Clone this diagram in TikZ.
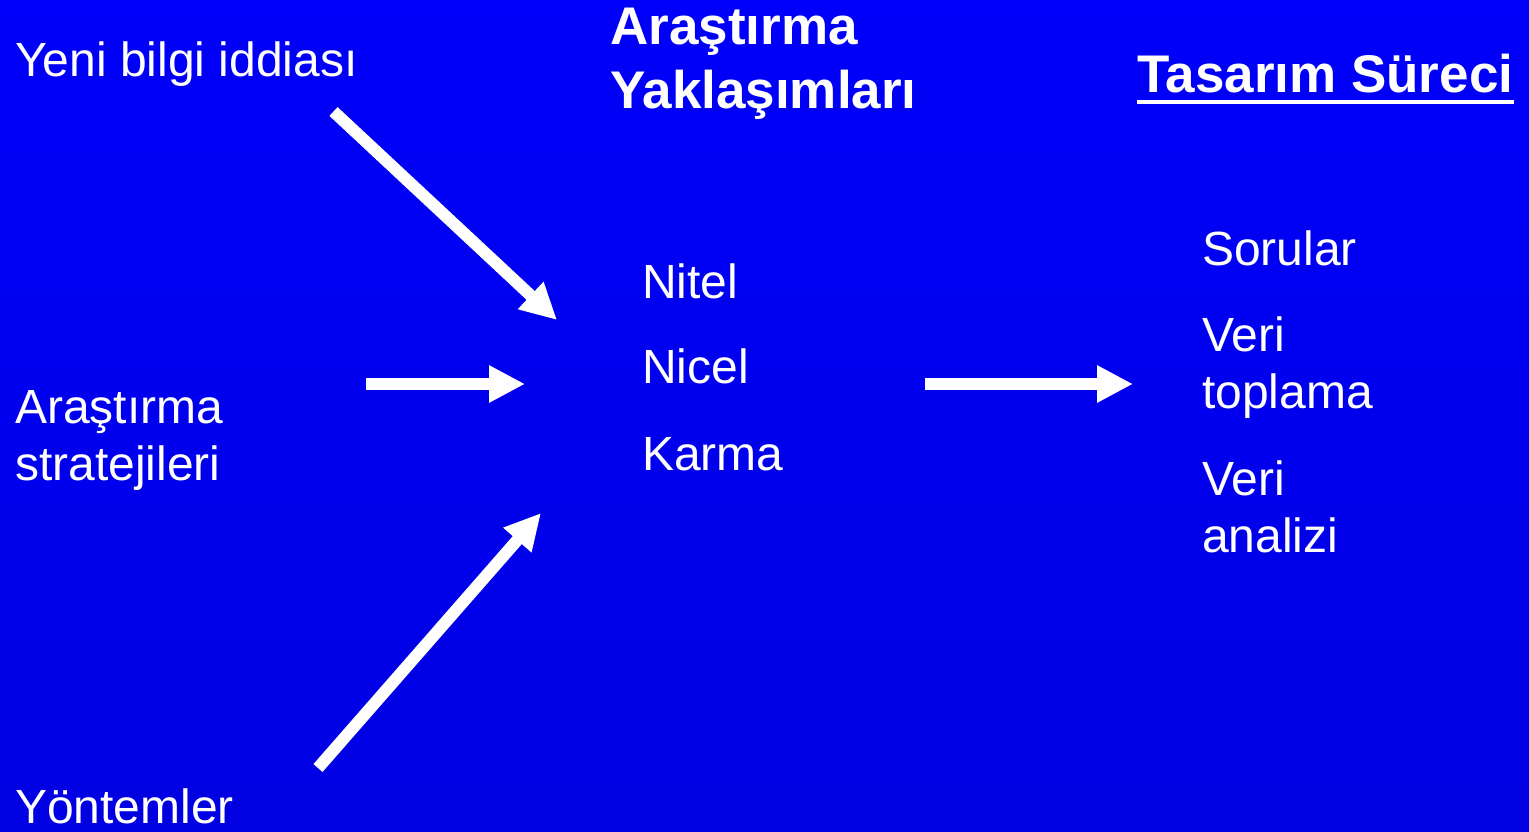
\documentclass[tikz,border=0pt]{standalone}
\usepackage{fontspec}
\setmainfont{Liberation Sans}
\usetikzlibrary{arrows.meta}
\definecolor{bgtop}{RGB}{0,0,250}
\definecolor{bgbot}{RGB}{0,0,226}
\begin{document}
\begin{tikzpicture}[x=1pt,y=-1pt,
  lbl/.style={anchor=base west,inner sep=0pt,text=white,font=\fontsize{48}{57}\selectfont,align=left},
  ttl/.style={anchor=base west,inner sep=0pt,text=white,font=\fontsize{53}{64}\selectfont\bfseries,align=left},
  bigarrow/.style={white,line width=12pt,-{Triangle[length=36pt,width=35pt]}}]
\shade[top color=bgtop,bottom color=bgbot] (0,0) rectangle (1529,832);
\useasboundingbox (0,0) rectangle (1529,832);
% left column
\node[lbl] (yeni) at (15,77) {Yeni bilgi iddiası};
\node[lbl] (stra) at (15,480) {Araştırma\\stratejileri};
\node[lbl] (yont) at (15,823) {Yöntemler};
% middle
\node[ttl] (yak) at (610,109) {Araştırma\\Yaklaşımları};
\node[lbl] (nitel) at (642,298) {Nitel};
\node[lbl] (nicel) at (642,383) {Nicel};
\node[lbl] (karma) at (642,470) {Karma};
% right
\node[ttl] (tas) at (1137,93) {Tasarım Süreci};
\draw[white,line width=4.5pt] ([yshift=-9pt]tas.base west) -- ([yshift=-9pt]tas.base east);
\node[lbl] (sor) at (1202,265) {Sorular};
\node[lbl] (vt) at (1202,408) {Veri\\toplama};
\node[lbl] (va) at (1202,552) {Veri\\analizi};
% arrow endpoints
\coordinate (a1s) at (333.5,111.5);
\coordinate (a1e) at (557,320);
\coordinate (a2s) at (366,384);
\coordinate (a2e) at (525,384);
\coordinate (a3s) at (318,768);
\coordinate (a3e) at (541,513);
\coordinate (a4s) at (925,384);
\coordinate (a4e) at (1133,384);
\draw[bigarrow] (a1s) -- (a1e);
\draw[bigarrow] (a2s) -- (a2e);
\draw[bigarrow] (a3s) -- (a3e);
\draw[bigarrow] (a4s) -- (a4e);
\end{tikzpicture}
\end{document}
